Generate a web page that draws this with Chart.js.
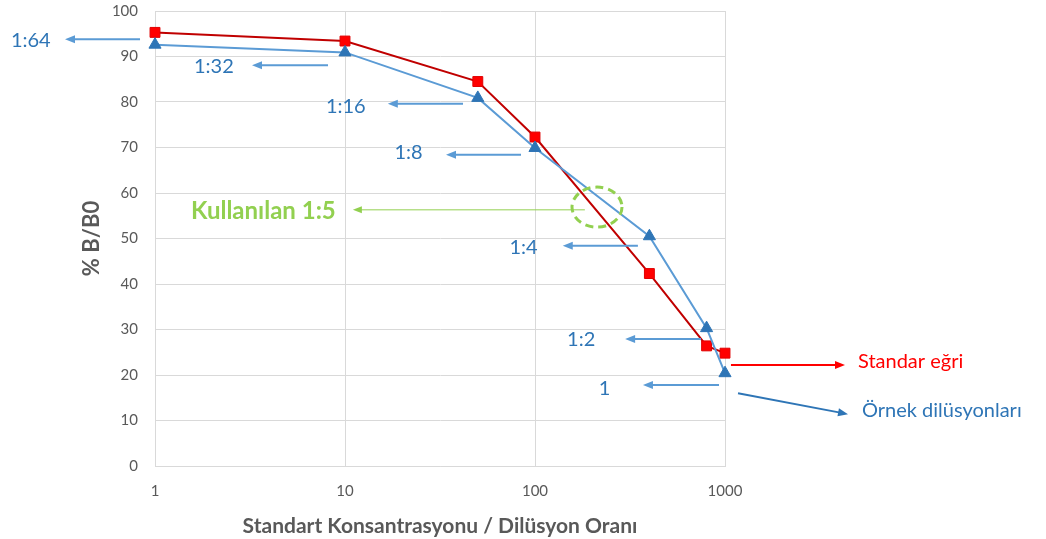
<!DOCTYPE html>
<html lang="tr">
<head>
    <meta charset="UTF-8">
    <title>% B/B0</title>
    <style>
        body {
            margin: 0;
            background: #ffffff;
            font-family: Lato, sans-serif;
        }
        .wrap {
            width: 1046px;
            height: 539px;
        }
    </style>
    <script src="https://cdn.jsdelivr.net/npm/chart.js"></script>
</head>
<body>
    <div class="wrap"><canvas id="chart"></canvas></div>
    <script>
        // x values (concentration / dilution ratio)
        const xValues = [1, 10, 50, 100, 400, 800, 1000];
        const standardCurve = [95.3, 93.4, 84.5, 72.3, 42.3, 26.4, 24.8];
        const sampleDilutions = [92.6, 90.9, 80.9, 69.9, 50.5, 30.3, 20.4];
        const xTicks = [1, 10, 100, 1000];

        // callouts, in data units: arrow from -> to, label centre
        const callouts = [
            { text: '1:64', from: [0.834, 93.8], to: [0.336, 93.8], at: [0.222, 93.6] },
            { text: '1:32', from: [8.14, 88.1], to: [3.24, 88.1], at: [2.04, 87.9] },
            { text: '1:16', from: [41.8, 79.6], to: [16.8, 79.6], at: [10.1, 79.1] },
            { text: '1:8', from: [84.4, 68.4], to: [34.0, 68.4], at: [21.6, 68.8] },
            { text: '1:4', from: [348, 48.4], to: [140, 48.4], at: [87, 48.1] },
            { text: '1:2', from: [748, 27.9], to: [298, 27.9], at: [175, 27.7] },
            { text: '1', from: [930, 17.8], to: [370, 17.8], at: [232, 17.1] }
        ];
        const usedLabel = { text: 'Kullanılan 1:5', from: [183, 56.3], to: [11.0, 56.3], at: [3.72, 56.0], ring: [212, 56.9] };
        const legendNotes = [
            { text: 'Standar eğri', color: '#FF0000', from: [1075, 22.2], to: [4280, 22.2], at: [5012, 22.9] },
            { text: 'Örnek dilüsyonları', color: '#2E75B6', from: [1171, 16.0], to: [4440, 11.4], at: [5260, 12.1] }
        ];

        function arrow(ctx, x1, y1, x2, y2, color, width, len, half) {
            const a = Math.atan2(y2 - y1, x2 - x1);
            ctx.save();
            ctx.strokeStyle = color;
            ctx.fillStyle = color;
            ctx.lineWidth = width;
            ctx.beginPath();
            ctx.moveTo(x1, y1);
            ctx.lineTo(x2 - Math.cos(a) * len * 0.8, y2 - Math.sin(a) * len * 0.8);
            ctx.stroke();
            ctx.beginPath();
            ctx.moveTo(x2, y2);
            ctx.lineTo(x2 - Math.cos(a) * len - Math.sin(a) * half, y2 - Math.sin(a) * len + Math.cos(a) * half);
            ctx.lineTo(x2 - Math.cos(a) * len + Math.sin(a) * half, y2 - Math.sin(a) * len - Math.cos(a) * half);
            ctx.closePath();
            ctx.fill();
            ctx.restore();
        }

        const calloutPlugin = {
            id: 'callouts',
            afterDatasetsDraw(chart) {
                const ctx = chart.ctx;
                const xs = chart.scales.x, ys = chart.scales.y;
                const px = v => xs.getPixelForValue(v);
                const py = v => ys.getPixelForValue(v);
                ctx.save();
                ctx.textBaseline = 'middle';

                callouts.forEach(c => {
                    arrow(ctx, px(c.from[0]), py(c.from[1]), px(c.to[0]), py(c.to[1]), '#5B9BD5', 2, 10, 4);
                    ctx.font = '20px Lato';
                    ctx.fillStyle = '#2E75B6';
                    ctx.textAlign = 'center';
                    ctx.fillText(c.text, px(c.at[0]), py(c.at[1]));
                });

                // used dilution
                arrow(ctx, px(usedLabel.from[0]), py(usedLabel.from[1]), px(usedLabel.to[0]), py(usedLabel.to[1]), '#92D050', 1, 9, 3.5);
                ctx.font = 'bold 24px Lato';
                ctx.fillStyle = '#92D050';
                ctx.textAlign = 'center';
                ctx.fillText(usedLabel.text, px(usedLabel.at[0]), py(usedLabel.at[1]));
                ctx.save();
                ctx.strokeStyle = '#92D050';
                ctx.lineWidth = 3;
                ctx.setLineDash([8, 5]);
                ctx.beginPath();
                ctx.ellipse(px(usedLabel.ring[0]), py(usedLabel.ring[1]), 25, 20, 0, 0, Math.PI * 2);
                ctx.stroke();
                ctx.restore();

                legendNotes.forEach(n => {
                    arrow(ctx, px(n.from[0]), py(n.from[1]), px(n.to[0]), py(n.to[1]), n.color, 2, 10, 4);
                    ctx.font = '20px Lato';
                    ctx.fillStyle = n.color;
                    ctx.textAlign = 'left';
                    ctx.fillText(n.text, px(n.at[0]), py(n.at[1]));
                });
                ctx.restore();
            }
        };

        new Chart(document.getElementById('chart'), {
            type: 'line',
            data: {
                datasets: [
                    {
                        label: 'Standar eğri',
                        data: xValues.map((x, i) => ({ x: x, y: standardCurve[i] })),
                        borderColor: '#C00000',
                        borderWidth: 2,
                        pointStyle: 'rect',
                        pointRadius: 7,
                        pointBackgroundColor: '#FF0000',
                        pointBorderColor: '#E00000',
                        pointBorderWidth: 1,
                        clip: false,
                        order: 1
                    },
                    {
                        label: 'Örnek dilüsyonları',
                        data: xValues.map((x, i) => ({ x: x, y: sampleDilutions[i] })),
                        borderColor: '#5B9BD5',
                        borderWidth: 2,
                        pointStyle: 'triangle',
                        pointRadius: 7,
                        pointBackgroundColor: '#2E75B6',
                        pointBorderColor: '#2E75B6',
                        pointBorderWidth: 1,
                        clip: false,
                        order: 0
                    }
                ]
            },
            options: {
                responsive: true,
                maintainAspectRatio: false,
                animation: false,
                layout: { padding: { top: 0, right: 321, left: 0, bottom: 0 } },
                plugins: {
                    legend: { display: false },
                    tooltip: { enabled: false }
                },
                scales: {
                    x: {
                        type: 'logarithmic',
                        min: 1,
                        max: 1000,
                        afterBuildTicks: scale => { scale.ticks = xTicks.map(v => ({ value: v })); },
                        afterFit: scale => { scale.height = 73; },
                        grid: { color: '#D9D9D9', drawTicks: false },
                        border: { color: '#D9D9D9' },
                        ticks: {
                            padding: 16,
                            color: '#595959',
                            font: { family: 'Lato', size: 15 },
                            maxRotation: 0,
                            autoSkip: false,
                            callback: v => String(v)
                        },
                        title: {
                            display: true,
                            text: 'Standart Konsantrasyonu / Dilüsyon Oranı',
                            color: '#595959',
                            font: { family: 'Lato', size: 21, weight: 'bold' },
                            padding: { top: 5, bottom: 0 }
                        }
                    },
                    y: {
                        min: 0,
                        max: 100,
                        afterFit: scale => {
                            scale.width = 155;
                            scale.paddingTop = 11;
                            scale.paddingBottom = 11;
                        },
                        grid: { color: '#D9D9D9', drawTicks: false },
                        border: { color: '#D9D9D9' },
                        ticks: {
                            stepSize: 10,
                            padding: 17,
                            color: '#595959',
                            font: { family: 'Lato', size: 15 }
                        },
                        title: {
                            display: true,
                            text: '% B/B0',
                            color: '#595959',
                            font: { family: 'Lato', size: 22, weight: 'bold' },
                            padding: { top: 79, bottom: 0 }
                        }
                    }
                }
            },
            plugins: [calloutPlugin]
        });
    </script>
</body>
</html>
